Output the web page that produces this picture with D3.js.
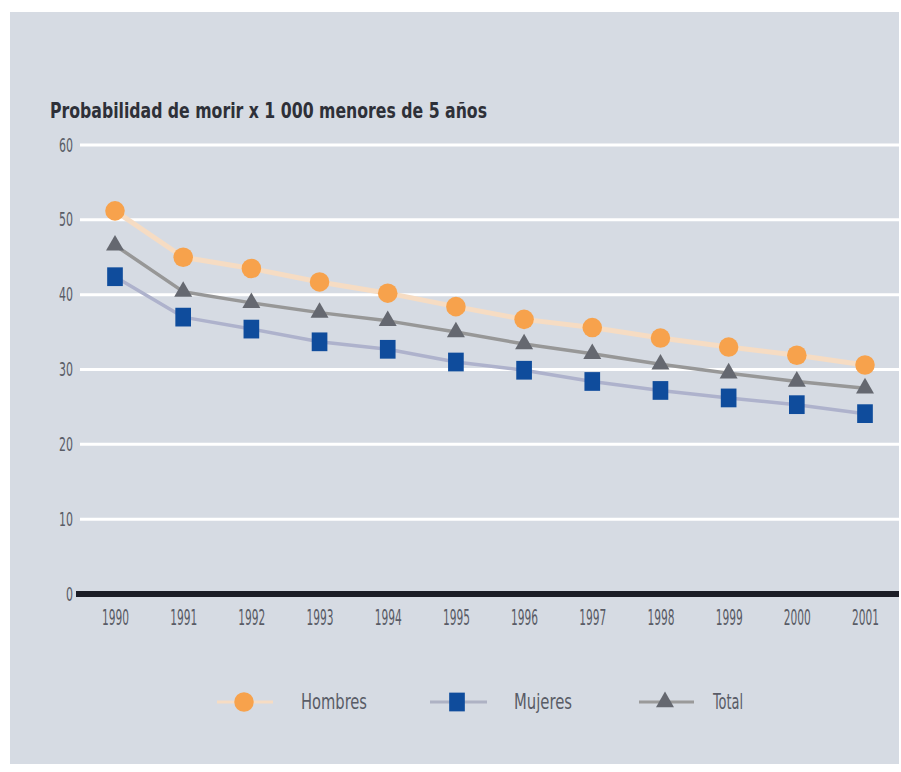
<!DOCTYPE html>
<html>
<head>
<meta charset="utf-8">
<script src="https://cdn.jsdelivr.net/npm/d3@7"></script>
<style>
  html, body { margin: 0; padding: 0; background: #ffffff; }
  svg { display: block; }
  text { font-family: "Liberation Sans Narrow", "DejaVu Sans Condensed", "Liberation Sans", sans-serif; }
</style>
</head>
<body>
<svg id="chart" width="901" height="772"></svg>
<script>
// Under-5 mortality per 1 000, by sex, 1990-2001
const years = [1990, 1991, 1992, 1993, 1994, 1995, 1996, 1997, 1998, 1999, 2000, 2001];
const hombres = [51.2, 45.0, 43.5, 41.7, 40.2, 38.4, 36.7, 35.6, 34.2, 33.0, 31.9, 30.6];
const mujeres = [42.4, 37.0, 35.4, 33.7, 32.7, 31.0, 29.9, 28.4, 27.2, 26.2, 25.3, 24.1];
const total   = [46.6, 40.4, 38.9, 37.6, 36.5, 35.0, 33.4, 32.1, 30.7, 29.5, 28.4, 27.5];
const yTicks = [0, 10, 20, 30, 40, 50, 60];
const title = "Probabilidad de morir x 1 000 menores de 5 años";
const seriesNames = ["Hombres", "Mujeres", "Total"];

const svg = d3.select("#chart");

// background panel
svg.append("rect")
  .attr("x", 10).attr("y", 12)
  .attr("width", 889).attr("height", 752)
  .attr("fill", "#d6dbe3");

const x = d3.scalePoint().domain(years).range([115, 865]);
const y = d3.scaleLinear().domain([0, 60]).range([594, 145]);

// horizontal gridlines
svg.append("g")
  .selectAll("line")
  .data(yTicks.filter(d => d > 0))
  .join("line")
  .attr("x1", 80).attr("x2", 899)
  .attr("y1", d => y(d)).attr("y2", d => y(d))
  .attr("stroke", "#ffffff")
  .attr("stroke-width", 3);

// y axis labels (narrow, condensed digits)
const yAxis = d3.axisLeft(y).tickValues(yTicks).tickSize(0).tickPadding(0).tickFormat(d3.format("d"));
const gy = svg.append("g").attr("transform", "translate(73,0)").call(yAxis);
gy.select(".domain").remove();
gy.selectAll("text")
  .attr("font-size", 19)
  .attr("fill", "#595c66")
  .attr("textLength", d => d === 0 ? 7 : 14)
  .attr("lengthAdjust", "spacingAndGlyphs");

// x axis labels
const xAxis = d3.axisBottom(x).tickSize(0).tickPadding(0).tickFormat(d3.format("d"));
const gx = svg.append("g").attr("transform", "translate(0,610)").call(xAxis);
gx.select(".domain").remove();
gx.selectAll("text")
  .attr("font-size", 21)
  .attr("fill", "#595c66")
  .attr("textLength", 27)
  .attr("lengthAdjust", "spacingAndGlyphs");

// zero baseline
svg.append("line")
  .attr("x1", 76).attr("x2", 899)
  .attr("y1", y(0)).attr("y2", y(0))
  .attr("stroke", "#1b1d26")
  .attr("stroke-width", 6);

// title
svg.append("text")
  .attr("x", 50).attr("y", 118)
  .attr("font-size", 22)
  .attr("font-weight", "bold")
  .attr("fill", "#2e3038")
  .attr("textLength", 437)
  .attr("lengthAdjust", "spacingAndGlyphs")
  .text(title);

const line = d3.line().x((d, i) => x(years[i])).y(d => y(d));

const styles = {
  Hombres: { data: hombres, stroke: "#f6dcc3", width: 5, fill: "#f7a24c" },
  Mujeres: { data: mujeres, stroke: "#aeb2cc", width: 3.5, fill: "#0f4c9c" },
  Total:   { data: total,   stroke: "#979797", width: 3.5, fill: "#656870" }
};

// lines
seriesNames.forEach(name => {
  const s = styles[name];
  svg.append("path")
    .datum(s.data)
    .attr("d", line)
    .attr("fill", "none")
    .attr("stroke", s.stroke)
    .attr("stroke-width", s.width)
    .attr("stroke-linejoin", "round");
});

// slightly tall square marker
const tallSquare = {
  draw(context, size) {
    const w = Math.sqrt(size) * 0.92, h = Math.sqrt(size) * 1.1;
    context.rect(-w / 2, -h / 2, w, h);
  }
};
const circleSym = d3.symbol().type(d3.symbolCircle).size(300);
const squareSym = d3.symbol().type(tallSquare).size(290);
const triSym = d3.symbol().type(d3.symbolTriangle).size(140);
const symbols = { Hombres: circleSym, Mujeres: squareSym, Total: triSym };

seriesNames.forEach(name => {
  const s = styles[name];
  svg.append("g")
    .selectAll("path")
    .data(s.data)
    .join("path")
    .attr("d", symbols[name])
    .attr("transform", (d, i) => `translate(${x(years[i])},${y(d)})`)
    .attr("fill", s.fill);
});

// legend
const legendY = 702;
const legendItems = [
  { name: "Hombres", cx: 244, x1: 217, x2: 273, tx: 301, tl: 66, stroke: "#f6dcc3" },
  { name: "Mujeres", cx: 457, x1: 430, x2: 487, tx: 514, tl: 58, stroke: "#aeb2c4" },
  { name: "Total",   cx: 665, x1: 639, x2: 694, tx: 713, tl: 30, stroke: "#9a9a9a" }
];
const lg = svg.append("g");
legendItems.forEach(it => {
  lg.append("line")
    .attr("x1", it.x1).attr("x2", it.x2)
    .attr("y1", legendY).attr("y2", legendY)
    .attr("stroke", it.stroke)
    .attr("stroke-width", 3);
  lg.append("path")
    .attr("d", symbols[it.name])
    .attr("transform", `translate(${it.cx},${legendY})`)
    .attr("fill", styles[it.name].fill);
  lg.append("text")
    .attr("x", it.tx).attr("y", legendY)
    .attr("dy", "0.35em")
    .attr("font-size", 21)
    .attr("fill", "#595c66")
    .attr("textLength", it.tl)
    .attr("lengthAdjust", "spacingAndGlyphs")
    .text(it.name);
});
</script>
</body>
</html>
